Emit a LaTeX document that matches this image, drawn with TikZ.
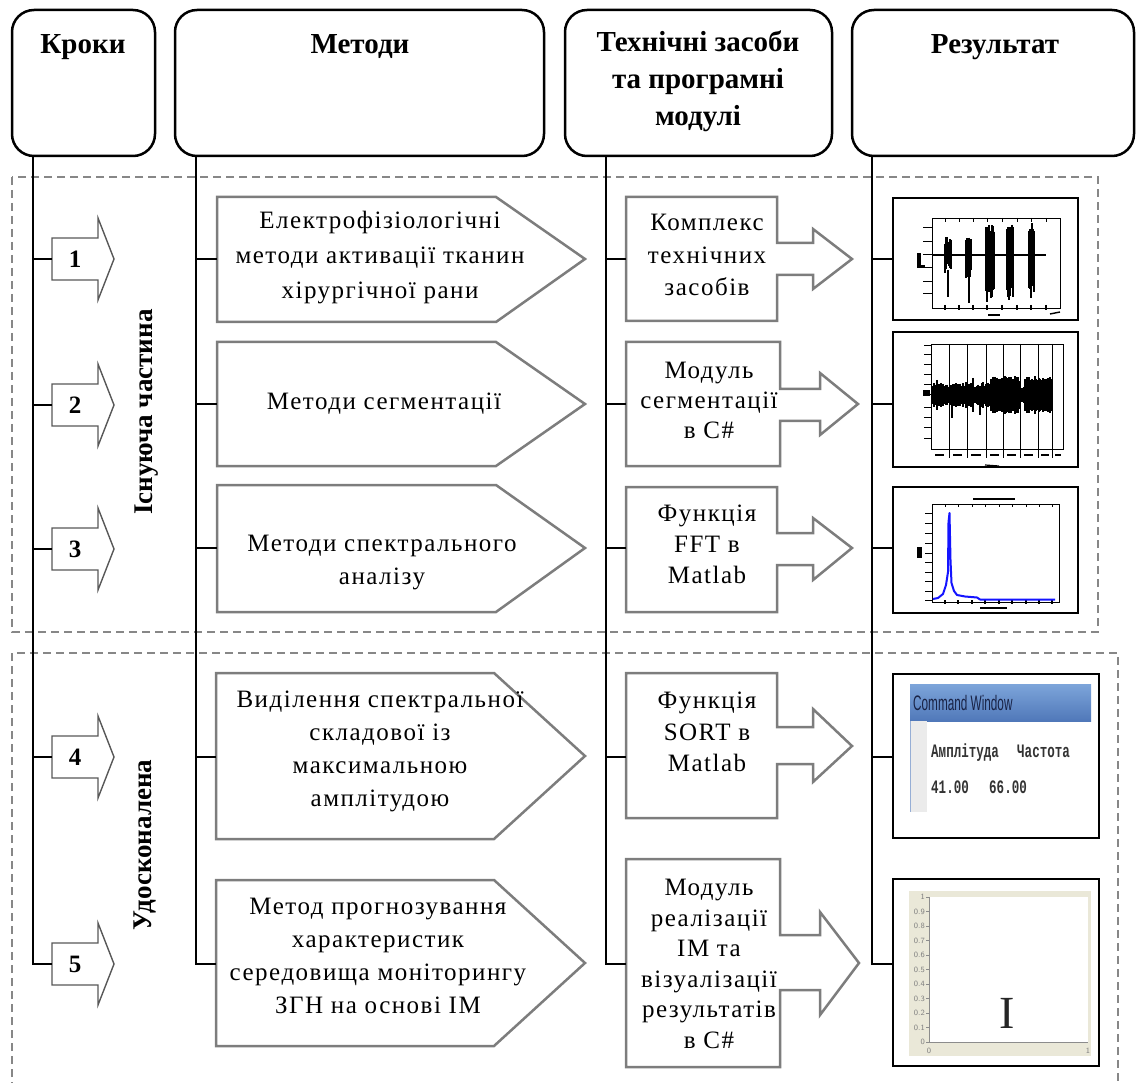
\documentclass[tikz,border=0pt]{standalone}
\usepackage{fontspec}
\setmainfont{Liberation Serif}
\newfontfamily\bodyfnt[LetterSpace=6]{Liberation Serif}
\newfontfamily\narrowsans[FakeStretch=0.56]{Liberation Sans}
\newfontfamily\narrowmono[FakeStretch=0.66]{Liberation Mono}
\definecolor{shapegray}{RGB}{125,125,125}
\definecolor{dashgray}{RGB}{135,135,135}
\definecolor{beigebg}{RGB}{234,232,216}
\definecolor{cwtop}{RGB}{125,165,218}
\definecolor{cwbot}{RGB}{80,120,185}
\definecolor{cwtext}{RGB}{25,35,70}
\definecolor{plotblue}{RGB}{20,20,255}
\tikzset{
  hdrbox/.style={draw=black, line width=2.5pt, rounded corners=22pt, inner sep=0pt},
  hdrtext/.style={font=\bfseries\fontsize{29}{37}\selectfont, align=center, inner sep=0pt},
  trunk/.style={line width=2.5pt, black},
  gshape/.style={draw=shapegray, line width=2.5pt, fill=white, line join=miter},
  stepshape/.style={draw=shapegray!70!black, line width=1.4pt, fill=white},
  steptext/.style={font=\bfseries\fontsize{25}{25}\selectfont, inner sep=0pt},
  bodytext/.style={font=\bodyfnt\fontsize{25}{#1}\selectfont, align=center, inner sep=0pt},
  bodytext/.default=33,
  sidetext/.style={font=\bfseries\fontsize{27}{27}\selectfont, rotate=90, inner sep=0pt},
  resbox/.style={draw=black, line width=2pt, fill=white, inner sep=0pt},
  dashbox/.style={draw=dashgray, line width=2pt, dash pattern=on 8pt off 5pt},
  thinax/.style={line width=1pt, black},
  cwfont/.style={anchor=base west, font=\narrowmono\bfseries\fontsize{19}{19}\selectfont, text=black!80, inner sep=0pt},
  ticklab/.style={font=\sffamily\fontsize{8}{8}\selectfont, text=black!50, inner sep=1pt},
}
\begin{document}
\begin{tikzpicture}[x=1pt,y=-1pt]
\useasboundingbox (0,0) rectangle (1136,1083);
\pgfmathsetseed{7}

% dashed region boxes
\draw[dashbox] (12,177) rectangle (1098,632);
\draw[dashbox] (12,1090) -- (12,653) -- (1118,653) -- (1118,1090);

% header boxes
\node[hdrbox, minimum width=143pt, minimum height=146pt] (kroky) at (83.5,83) {};
\node[hdrbox, minimum width=369pt, minimum height=146pt] (metody) at (359.5,83) {};
\node[hdrbox, minimum width=267pt, minimum height=146pt] (tech) at (698.5,83) {};
\node[hdrbox, minimum width=282pt, minimum height=146pt] (rez) at (993,83) {};
\node[hdrtext, anchor=base] (krokyt) at (83,54) {Кроки};
\node[hdrtext, anchor=base] (metodyt) at (360,54) {Методи};
\node[hdrtext] (techt) at (698,81) {Технічні засоби\\та програмні\\модулі};
\node[hdrtext, anchor=base] (rezt) at (995,54) {Результат};

% trunk x positions and rows
\coordinate (kx) at (33,0);
\coordinate (mx) at (196,0);
\coordinate (tx) at (606,0);
\coordinate (rx) at (872,0);
\coordinate (row1) at (0,259);
\coordinate (row2) at (0,404);
\coordinate (row3) at (0,548);
\coordinate (row4) at (0,757);
\coordinate (row5) at (0,964);

% step arrows
\foreach \c/\n in {259/1,405/2,549/3,757/4,964/5}{
  \coordinate (s\n) at (52,\c);
  \draw[stepshape] (52,\c-21) -- (98,\c-21) -- (98,\c-41) -- (114,\c) -- (98,\c+41) -- (98,\c+21) -- (52,\c+21) -- cycle;
  \node[steptext] (sn\n) at (75,\c) {\n};
}

% method pentagons
\draw[gshape] (217,197) -- (496,197) -- (585,259) -- (496,322) -- (217,322) -- cycle;
\draw[gshape] (217,342) -- (496,342) -- (585,404) -- (496,466) -- (217,466) -- cycle;
\draw[gshape] (217,485) -- (496,485) -- (585,548) -- (496,612) -- (217,612) -- cycle;
\draw[gshape] (216,673) -- (494,673) -- (585,756) -- (494,839) -- (216,839) -- cycle;
\draw[gshape] (216,880) -- (494,880) -- (585,963) -- (494,1046) -- (216,1046) -- cycle;
\coordinate (p1) at (217,259);
\coordinate (p2) at (217,404);
\coordinate (p3) at (217,548);
\coordinate (p4) at (216,757);
\coordinate (p5) at (216,964);

% tech shapes
\draw[gshape] (626,197) -- (777,197) -- (777,243) -- (813,243) -- (813,229) -- (852,259) -- (813,289) -- (813,275) -- (777,275) -- (777,321) -- (626,321) -- cycle;
\draw[gshape] (626,342) -- (780,342) -- (780,389) -- (820,389) -- (820,373) -- (858,404) -- (820,435) -- (820,421) -- (780,421) -- (780,466) -- (626,466) -- cycle;
\draw[gshape] (626,487) -- (777,487) -- (777,533) -- (813,533) -- (813,518) -- (852,548) -- (813,580) -- (813,565) -- (777,565) -- (777,612) -- (626,612) -- cycle;
\draw[gshape] (626,673) -- (777,673) -- (777,727) -- (813,727) -- (813,709) -- (852,746) -- (813,782) -- (813,764) -- (777,764) -- (777,818) -- (626,818) -- cycle;
\draw[gshape] (626,859) -- (780,859) -- (780,935) -- (820,935) -- (820,912) -- (859,963) -- (820,1015) -- (820,990) -- (780,990) -- (780,1067) -- (626,1067) -- cycle;
\coordinate (t1) at (626,259);
\coordinate (t2) at (626,404);
\coordinate (t3) at (626,548);
\coordinate (t4) at (626,757);
\coordinate (t5) at (626,964);

% result boxes
\node[resbox, minimum width=185pt, minimum height=122pt] (r1) at (985.5,259) {};
\node[resbox, minimum width=185pt, minimum height=135pt] (r2) at (985.5,399.5) {};
\node[resbox, minimum width=185pt, minimum height=126pt] (r3) at (985.5,550) {};
\node[resbox, minimum width=206pt, minimum height=164pt] (r4) at (996,756) {};
\node[resbox, minimum width=206pt, minimum height=187pt] (r5) at (996,972.5) {};

% trunks and stubs
\draw[trunk] (kroky.south -| kx) -- (kx |- row5) -- (s5);
\draw[trunk] (metody.south -| mx) -- (mx |- row5) -- (p5);
\draw[trunk] (tech.south -| tx) -- (tx |- row5) -- (t5);
\draw[trunk] (rez.south -| rx) -- (rx |- row5) -- (r5.west |- row5);
\foreach \i in {1,2,3,4}{
  \draw[trunk] (kx |- s\i) -- (s\i);
  \draw[trunk] (mx |- p\i) -- (p\i);
  \draw[trunk] (tx |- t\i) -- (t\i);
  \draw[trunk] (rx |- row\i) -- (r\i.west |- row\i);
}

% side labels
\node[sidetext] (side1) at (147,412) {Існуюча частина};
\node[sidetext] (side2) at (145,845) {Удосконалена};

% method texts
\node[bodytext=35] (pt1) at (380,258) {Електрофізіологічні\\методи активації тканин\\хірургічної рани};
\node[bodytext] (pt2) at (384,404) {Методи сегментації};
\node[bodytext] (pt3) at (382,563) {Методи спектрального\\аналізу};
\node[bodytext] (pt4) at (380,751) {Виділення спектральної\\складової із\\максимальною\\амплітудою};
\node[bodytext] (pt5) at (378,956) {Метод прогнозування\\характеристик\\середовища моніторингу\\ЗГН на основі ІМ};

% tech texts
\node[bodytext=32.5] (tt1) at (707,255) {Комплекс\\технічних\\засобів};
\node[bodytext=30] (tt2) at (709,400) {Модуль\\сегментації\\в C\#};
\node[bodytext=31] (tt3) at (707,544) {Функція\\FFT в\\Matlab};
\node[bodytext=31.5] (tt4) at (707,732) {Функція\\SORT в\\Matlab};
\node[bodytext=30.5] (tt5) at (709,964) {Модуль\\реалізації\\ІМ та\\візуалізації\\результатів\\в C\#};

% ---------- result 1: bursts ----------
\draw[line width=0.9pt] (932,218) rectangle (1060,308);
\foreach \y in {228,242,255,268,282,294} \draw[thinax] (923,\y) -- (932,\y);
\foreach \x in {945,959,973,987,1002,1017,1031,1046} {
  \draw[thinax] (\x,218) -- (\x,222);
  \draw[line width=1.6pt] (\x,305) -- (\x,310);
}
\draw[line width=2.5pt] (932,255) -- (1046,255);
\foreach \xa/\xb/\tp/\bt in {945/951/236/275, 966/971/237/279, 986/994/223/300, 1007/1013/223/299, 1029/1034/223/297}{
  \foreach \x in {\xa,...,\xb}{
    \pgfmathsetmacro\ya{\tp+rnd*9}
    \pgfmathsetmacro\yb{\bt-rnd*12}
    \draw[line width=1.1pt] (\x,\ya) -- (\x,\yb);
  }
}
\draw[line width=1.2pt] (948,270) -- (948,297);
\draw[line width=1.2pt] (969,270) -- (969,303);
\draw[line width=1.2pt] (987,270) -- (987,302);
\draw[line width=1.2pt] (1009,270) -- (1009,300);
\draw[line width=1.2pt] (1031,270) -- (1031,298);
\fill (917,253) rectangle (921,268);
\fill (917,265) rectangle (925,268);
\draw[line width=1.4pt] (988,315) -- (1000,315);
\draw[line width=1.4pt] (1050,314) -- (1060,312);

% ---------- result 2: segmented signal ----------
\draw[line width=0.9pt] (931,344) rectangle (1063,449);
\foreach \y in {346,355,365,375,385,395,408,418,428,438} \draw[thinax] (924,\y) -- (931,\y);
\foreach \x in {949,967,986,1003,1020,1038,1052} \draw[line width=1pt] (\x,344) -- (\x,458);
\foreach \x in {932,...,1052}{
  \pgfmathsetmacro\amp{(\x<991) ? (7+rnd*6) : (((\x>1019) && (\x<1025)) ? (5+rnd*3) : (14+rnd*5))}
  \draw[line width=1.1pt] (\x,395-\amp) -- (\x,395+\amp);
}
\draw[line width=1.2pt] (937,380) -- (937,410);
\draw[line width=1.2pt] (952,398) -- (952,418);
\draw[line width=1.2pt] (973,378) -- (973,412);
\draw[line width=1.2pt] (980,388) -- (980,415);
\fill (923,390) rectangle (930,396);
\foreach \xa/\xb in {935/944,953/962,971/981,990/999,1007/1016,1024/1033,1041/1049,1055/1061}
  \draw[line width=1.2pt] (\xa,455) -- (\xb,455);
\draw[line width=1.2pt] (985,465) -- (999,466);

% ---------- result 3: spectrum ----------
\draw[line width=0.9pt] (932,504) rectangle (1059,602);
\foreach \y in {513,523,533,543,553,562,572,581,591,600} \draw[thinax] (925,\y) -- (932,\y);
\foreach \x in {945,958,972,985,999,1012,1026,1039,1052}{
  \draw[thinax] (\x,504) -- (\x,507);
  \draw[line width=1.6pt] (\x,600) -- (\x,604);
}
\draw[line width=1.6pt] (973,499) -- (1015,499);
\draw[line width=1.6pt] (980,608) -- (1007,608);
\fill (917,547) rectangle (922,558);
\draw[plotblue, line width=2pt, line join=round] (933,599) -- (938,598) -- (943,594) -- (946,585) -- (948,572) -- (948.5,522) -- (949.5,513) -- (950.5,560) -- (951.5,583) -- (954,591) -- (957,595) -- (965,596.5) -- (977,597.5) -- (980,599.5) -- (1055,599.5);

% ---------- result 4: command window ----------
\shade[top color=cwtop, bottom color=cwbot] (910,684) rectangle (1091,721);
\node[anchor=west, font=\narrowsans\fontsize{21}{21}\selectfont, text=cwtext, inner sep=0pt] (cwt) at (913,703) {Command Window};
\fill[black!8] (910,721) rectangle (927,812);
\draw[cwbot!60, line width=0.8pt] (910,721) -- (910,812);
\node[cwfont] (cw1) at (931,757) {Амплітуда};
\node[cwfont] (cw2) at (1017,757) {Частота};
\node[cwfont] (cw3) at (931,793) {41.00};
\node[cwfont] (cw4) at (989,793) {66.00};

% ---------- result 5: empty chart ----------
\fill[beigebg] (909,891) rectangle (1091,1056);
\fill[white] (929,897) rectangle (1088,1042);
\draw[black!45, line width=0.6pt] (929,897) -- (929,1042) -- (1088,1042);
\foreach \k/\l in {0/0,1/0.1,2/0.2,3/0.3,4/0.4,5/0.5,6/0.6,7/0.7,8/0.8,9/0.9,10/1}{
  \draw[black!45, line width=0.5pt] (926,1042-14.5*\k) -- (929,1042-14.5*\k);
  \node[ticklab, anchor=east] at (926,1042-14.5*\k) {\l};
}
\node[ticklab] (x0) at (929,1051) {0};
\node[ticklab] (x1) at (1088,1051) {1};
\node[font=\fontsize{46}{46}\selectfont, inner sep=0pt, text=black!85] (cursor) at (1007,1013) {I};

\end{tikzpicture}
\end{document}
